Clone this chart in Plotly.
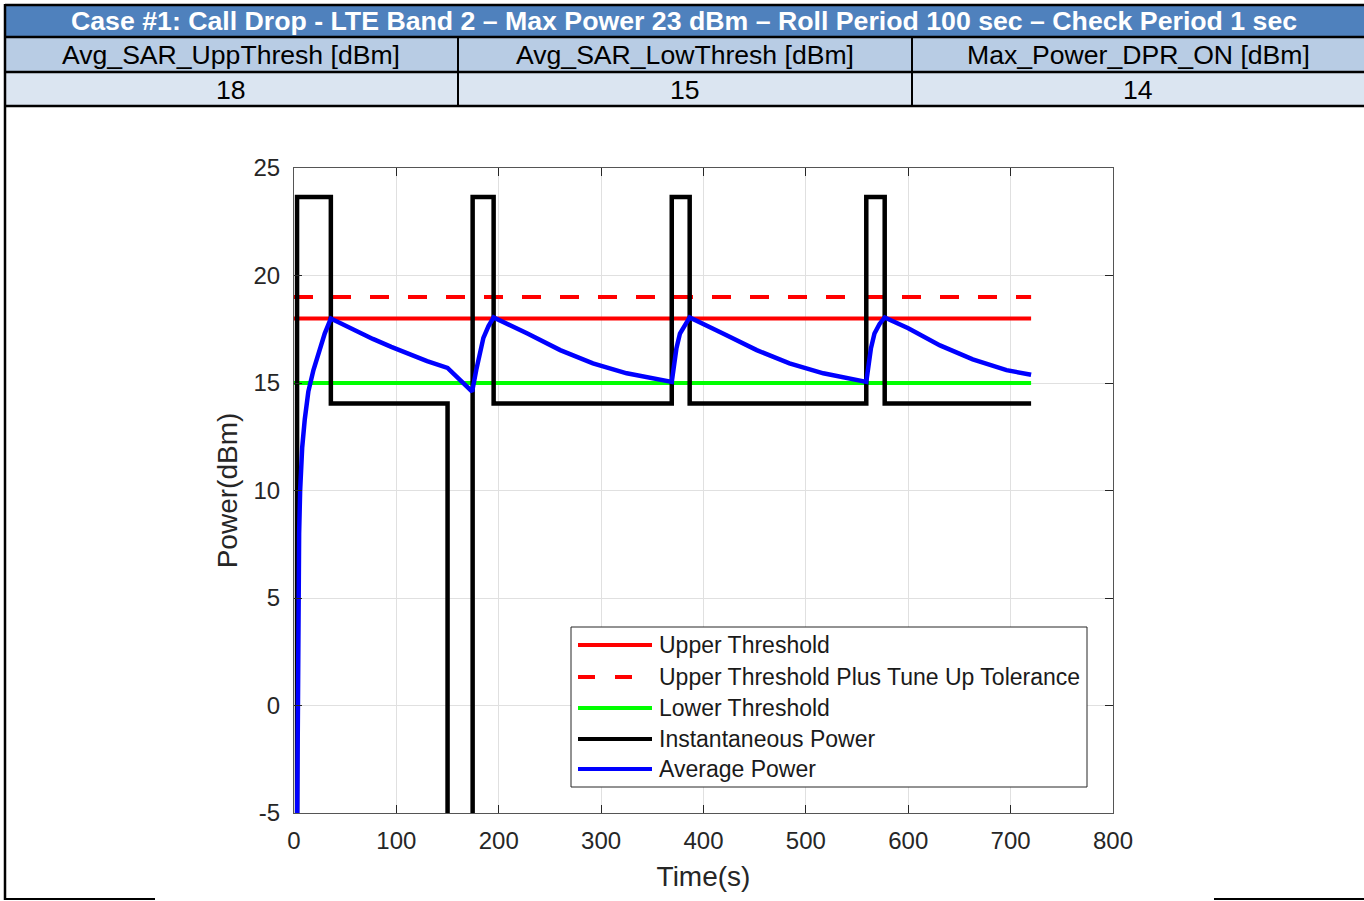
import plotly.graph_objects as go

# ---------------- data ----------------
header_title = "Case #1: Call Drop - LTE Band 2 \u2013 Max Power 23 dBm \u2013 Roll Period 100 sec \u2013 Check Period 1 sec"
param_names = ["Avg_SAR_UppThresh [dBm]", "Avg_SAR_LowThresh [dBm]", "Max_Power_DPR_ON [dBm]"]
param_values = ["18", "15", "14"]

series_names = ["Upper Threshold", "Upper Threshold Plus Tune Up Tolerance",
                "Lower Threshold", "Instantaneous Power", "Average Power"]

thr_t = [0, 720]
upper_thr = [18, 18]
upper_tol = [19, 19]
lower_thr = [15, 15]

inst_t = [3, 3, 36, 36, 150, 150, 174.5, 174.5, 195, 195, 369, 369,
          386.5, 386.5, 559, 559, 577, 577, 720]
inst_p = [-40, 23.65, 23.65, 14.05, 14.05, -40, -40, 23.65, 23.65, 14.05, 14.05, 23.65,
          23.65, 14.05, 14.05, 23.65, 23.65, 14.05, 14.05]

avg_t = [3, 3.5, 4, 5, 6, 8, 10.5, 14, 19, 25, 30, 36,
         55, 77, 95, 110, 130, 150, 174,
         178, 180, 185, 190, 195,
         228, 260, 292, 325, 369,
         373.5, 377, 382, 386.5,
         419, 452, 484, 517, 559,
         563.5, 567, 572, 577,
         600, 631, 663, 696, 720]
avg_p = [-6, 1, 4.5, 8, 10, 12, 13.3, 14.6, 15.6, 16.6, 17.3, 18.0,
         17.55, 17.05, 16.68, 16.38, 16.02, 15.7, 14.6,
         15.6, 16.1, 17.1, 17.65, 18.05,
         17.3, 16.53, 15.91, 15.45, 15.05,
         16.6, 17.3, 17.75, 18.05,
         17.3, 16.53, 15.91, 15.45, 15.05,
         16.6, 17.3, 17.75, 18.05,
         17.55, 16.75, 16.1, 15.6, 15.38]

x_ticks = [0, 100, 200, 300, 400, 500, 600, 700, 800]
y_ticks = [-5, 0, 5, 10, 15, 20, 25]
y_tick_text = ["-5", "0", "5", "10", "15", "20", "25"]

colors = ["#FF0000", "#FF0000", "#00FF00", "#000000", "#0000FF"]
dashes = ["solid", "19px,19px", "solid", "solid", "solid"]
widths = [4, 4, 4, 4.5, 4.5]

# ---------------- geometry helpers ----------------
W, H = 1364, 901
def px(x):
    return x / W
def py(y):
    return 1 - y / H

FONT = "Liberation Sans, Arial, sans-serif"

fig = go.Figure()
xs = [thr_t, thr_t, thr_t, inst_t, avg_t]
ys = [upper_thr, upper_tol, lower_thr, inst_p, avg_p]
for name, x, y, c, d, w in zip(series_names, xs, ys, colors, dashes, widths):
    fig.add_trace(go.Scatter(x=x, y=y, mode="lines", name=name,
                             line=dict(color=c, width=w, dash=d),
                             showlegend=False))

shapes = []
annotations = []

# ---- header table ----
row_bounds = [5, 37, 72, 106]
row_fill = ["#4F81BD", "#B8CCE4", "#DBE5F1"]
for i in range(3):
    shapes.append(dict(type="rect", xref="paper", yref="paper",
                       x0=px(5), x1=px(1364), y0=py(row_bounds[i + 1]), y1=py(row_bounds[i]),
                       fillcolor=row_fill[i], line=dict(width=0), layer="below"))
for yb in row_bounds:
    shapes.append(dict(type="line", xref="paper", yref="paper",
                       x0=px(5), x1=px(1364), y0=py(yb), y1=py(yb),
                       line=dict(color="black", width=2.5)))
col_bounds = [5, 458, 912, 1364]
for xb in col_bounds[1:3]:
    shapes.append(dict(type="line", xref="paper", yref="paper",
                       x0=px(xb), x1=px(xb), y0=py(37), y1=py(106),
                       line=dict(color="black", width=2)))
# left border of the whole frame
shapes.append(dict(type="line", xref="paper", yref="paper",
                   x0=px(5), x1=px(5), y0=py(4), y1=py(900),
                   line=dict(color="black", width=2.5)))
# bottom partial borders
for xa, xb in [(5, 155), (1214, 1364)]:
    shapes.append(dict(type="line", xref="paper", yref="paper",
                       x0=px(xa), x1=px(xb), y0=py(899), y1=py(899),
                       line=dict(color="black", width=2)))

annotations.append(dict(text="<b>" + header_title + "</b>", xref="paper", yref="paper",
                        x=px(684), y=py(21), xanchor="center", yanchor="middle",
                        showarrow=False, font=dict(family=FONT, size=26.7, color="white")))
for i in range(3):
    cx = (col_bounds[i] + col_bounds[i + 1]) / 2
    annotations.append(dict(text=param_names[i], xref="paper", yref="paper",
                            x=px(cx), y=py(55), xanchor="center", yanchor="middle",
                            showarrow=False, font=dict(family=FONT, size=26.6, color="black")))
    annotations.append(dict(text=param_values[i], xref="paper", yref="paper",
                            x=px(cx), y=py(90), xanchor="center", yanchor="middle",
                            showarrow=False, font=dict(family=FONT, size=26.6, color="black")))

# ---- legend (drawn) ----
shapes.append(dict(type="rect", xref="paper", yref="paper",
                   x0=px(571), x1=px(1087), y0=py(787), y1=py(627),
                   fillcolor="white", line=dict(color="#262626", width=1), layer="above"))
leg_rows = [645, 677, 708, 739, 769]
for name, c, d, yr in zip(series_names, colors, dashes, leg_rows):
    ld = "17px,20px" if d != "solid" else "solid"
    shapes.append(dict(type="line", xref="paper", yref="paper",
                       x0=px(578), x1=px(652 if d == "solid" else 634), y0=py(yr), y1=py(yr),
                       line=dict(color=c, width=4, dash=ld), layer="above"))
    annotations.append(dict(text=name, xref="paper", yref="paper",
                            x=px(657), y=py(yr), xanchor="left", yanchor="middle",
                            showarrow=False, font=dict(family=FONT, size=23, color="#1a1a1a")))

axis_common = dict(ticks="inside", ticklen=8, tickwidth=1, tickcolor="#262626",
                   showline=True, linecolor="#555555", linewidth=1, mirror="ticks",
                   showgrid=True, gridcolor="#E0E0E0", gridwidth=1, zeroline=False,
                   automargin=False,
                   tickfont=dict(family=FONT, size=24, color="#262626"))

fig.update_layout(
    width=W, height=H, autosize=False,
    margin=dict(l=0, r=0, t=0, b=0, pad=0, autoexpand=False),
    paper_bgcolor="white", plot_bgcolor="white",
    showlegend=False,
    shapes=shapes, annotations=annotations,
    xaxis=dict(domain=[px(294), px(1113)], range=[0, 800], tickvals=x_ticks,
               title=dict(text="Time(s)", font=dict(family=FONT, size=28, color="#262626"), standoff=13),
               ticklabelstandoff=6, **axis_common),
    yaxis=dict(domain=[py(813), py(168)], range=[-5, 25], tickvals=y_ticks, ticktext=y_tick_text,
               title=dict(text="Power(dBm)", font=dict(family=FONT, size=28, color="#262626"), standoff=7),
               ticklabelstandoff=8, **axis_common),
)

fig.write_html("out.html", config={"displayModeBar": False},
               post_script="document.body.style.margin='0';document.body.style.overflow='hidden';")
